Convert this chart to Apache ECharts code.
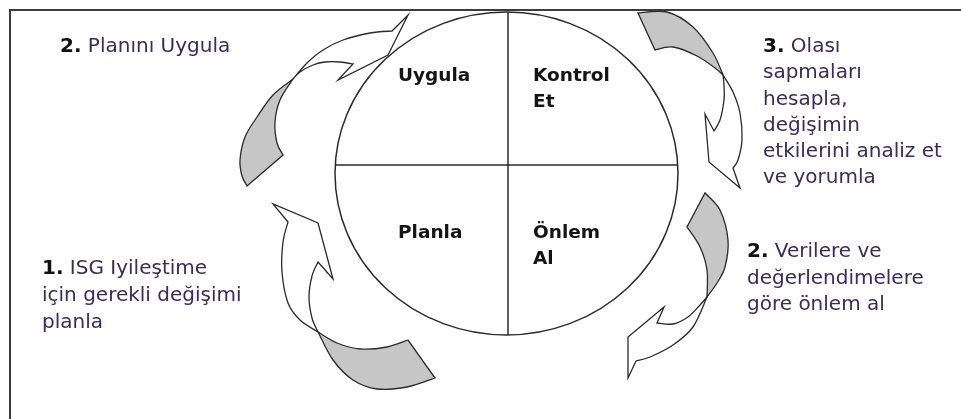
<!DOCTYPE html>
<html><head><meta charset="utf-8">
<script src="https://cdn.jsdelivr.net/npm/echarts@6/dist/echarts.min.js"></script>
<style>html,body{margin:0;padding:0;background:#fff}#c{width:961px;height:419px}</style>
</head><body><div id="c"></div>
<script>
// ---- content ----
const quadrantLabels = ['Uygula', 'Kontrol\nEt', 'Planla', 'Önlem\nAl'];
const stepNumbers = ['2.', '1.', '3.', '2.'];
const stepTexts = [
  ['Planını Uygula'],
  ['ISG Iyileştime', 'için gerekli değişimi', 'planla'],
  ['Olası', 'sapmaları', 'hesapla,', 'değişimin', 'etkilerini analiz et', 've yorumla'],
  ['Verilere ve', 'değerlendimelere', 'göre önlem al']
];

// ---- layout (diagram geometry, page units) ----
const W = 961, H = 419;
const quadrantPos = [[398, 76], [533, 76], [398, 233], [533, 233]];
const stepPos = [[60, 47, 27], [42, 269, 27], [763, 47, 26.2], [747, 252, 26.5]];
const circleGeom = { cx: 506.5, cy: 173.5, rx: 171.5, ry: 161.5, hy: 165, vx: 508 };
const frameGeom = { x: 10, y: 10 };
// arrow outlines: start point + runs of ['c', pts] (smooth) or ['l', pts] (straight)
const arrowTails = [
  { start: [247, 186], runs: [['l', [[283, 155]]], ['c', [[277, 143], [275, 122], [280, 100], [293, 79]]], ['c', [[273, 95], [257, 117], [245, 137], [240, 160], [242, 176], [247, 186]]]] },
  { start: [318, 332], runs: [['c', [[337, 343], [360, 349], [387, 347], [408, 340]]], ['l', [[435, 378]]], ['c', [[407, 387], [377, 389], [353, 380], [333, 360], [318, 332]]]] },
  { start: [638, 13], runs: [['c', [[667, 12], [693, 27], [713, 53], [723, 75]]], ['c', [[715, 68], [697, 56], [673, 47], [655, 50]]], ['l', [[638, 13]]]] },
  { start: [705, 193], runs: [['c', [[720, 210], [728, 240], [725, 267], [717, 283], [707, 297]]], ['c', [[707, 270], [700, 247], [687, 227]]], ['l', [[705, 193]]]] }
];
const arrowBodies = [
  { start: [293, 79], runs: [['c', [[307, 63], [323, 50], [343, 40], [370, 33], [392, 31]]], ['l', [[408, 15], [388, 55], [338, 80], [353, 64]]], ['c', [[340, 62], [325, 62], [313, 65], [300, 72], [293, 79]]]] },
  { start: [318, 332], runs: [['c', [[300, 320], [288, 303], [282, 272], [283, 242], [288, 222]]], ['l', [[273, 204], [318, 223], [333, 279], [318, 262]]], ['c', [[312, 276], [309, 297], [312, 318], [318, 332]]]] },
  { start: [723, 75], runs: [['c', [[733, 92], [740, 113], [742, 140], [738, 160], [733, 168]]], ['l', [[740, 188], [709, 162], [705, 114], [714, 131]]], ['c', [[720, 120], [724, 100], [724, 85], [723, 75]]]] },
  { start: [707, 297], runs: [['c', [[693, 327], [673, 345], [650, 357], [636, 361]]], ['l', [[628, 378], [628, 337], [664, 307], [657, 323]]], ['c', [[673, 324], [688, 317], [700, 305], [707, 297]]]] }
];

// ---- styles ----
const TEXT_COLOR = '#3b2a5c';
const NUM_COLOR = '#111';
const LINE_COLOR = '#2a2a2a';
const FONT = '"DejaVu Sans", sans-serif';

function f(n) { return Math.round(n * 100) / 100; }

function buildPath(shape, api) {
  const P = p => api.coord(p);
  let cur = P(shape.start);
  let d = 'M' + f(cur[0]) + ' ' + f(cur[1]);
  shape.runs.forEach(([kind, raw]) => {
    const pts = raw.map(P);
    if (kind === 'l') {
      pts.forEach(p => { d += ' L' + f(p[0]) + ' ' + f(p[1]); });
    } else {
      const all = [cur].concat(pts);
      for (let i = 0; i < all.length - 1; i++) {
        const p0 = all[Math.max(i - 1, 0)], p1 = all[i], p2 = all[i + 1], p3 = all[Math.min(i + 2, all.length - 1)];
        const c1 = [p1[0] + (p2[0] - p0[0]) / 6, p1[1] + (p2[1] - p0[1]) / 6];
        const c2 = [p2[0] - (p3[0] - p1[0]) / 6, p2[1] - (p3[1] - p1[1]) / 6];
        d += ' C' + f(c1[0]) + ' ' + f(c1[1]) + ' ' + f(c2[0]) + ' ' + f(c2[1]) + ' ' + f(p2[0]) + ' ' + f(p2[1]);
      }
    }
    cur = pts[pts.length - 1];
  });
  return d + ' Z';
}

const chart = echarts.init(document.getElementById('c'), null, { renderer: 'canvas' });

const option = {
  animation: false,
  backgroundColor: '#fff',
  grid: { left: 0, right: 0, top: 0, bottom: 0 },
  xAxis: { type: 'value', min: 0, max: W, show: false },
  yAxis: { type: 'value', min: 0, max: H, inverse: true, show: false },
  series: [
    {
      name: 'arrows', type: 'custom', clip: false, z: 1,
      data: arrowBodies.map((_, i) => [i, 0]),
      renderItem: (params, api) => {
        const i = params.dataIndex;
        return {
          type: 'group', children: [
            { type: 'path', shape: { pathData: buildPath(arrowBodies[i], api) }, style: { fill: '#fff', stroke: LINE_COLOR, lineWidth: 1.3 } },
            { type: 'path', shape: { pathData: buildPath(arrowTails[i], api) }, style: { fill: '#c6c6c6', stroke: LINE_COLOR, lineWidth: 1.3 } }
          ]
        };
      }
    },
    {
      name: 'frame', type: 'custom', clip: false, z: 2,
      data: [[0, 0]],
      renderItem: (params, api) => {
        const g = circleGeom;
        const L = api.coord([g.cx - g.rx, g.cy]), R = api.coord([g.cx + g.rx, g.cy]);
        const rx = (R[0] - L[0]) / 2;
        const ry = api.size([0, g.ry])[1];
        const ell = 'M' + L[0] + ' ' + L[1] + ' A' + rx + ' ' + ry + ' 0 1 0 ' + R[0] + ' ' + R[1] + ' A' + rx + ' ' + ry + ' 0 1 0 ' + L[0] + ' ' + L[1] + ' Z';
        // horizontal chord
        const dy = g.hy - g.cy;
        const hx = g.rx * Math.sqrt(1 - (dy * dy) / (g.ry * g.ry));
        const h1 = api.coord([g.cx - hx, g.hy]), h2 = api.coord([g.cx + hx, g.hy]);
        const dx = g.vx - g.cx;
        const vy = g.ry * Math.sqrt(1 - (dx * dx) / (g.rx * g.rx));
        const v1 = api.coord([g.vx, g.cy - vy]), v2 = api.coord([g.vx, g.cy + vy]);
        const f0 = api.coord([frameGeom.x, frameGeom.y]);
        const fR = api.coord([W, frameGeom.y]), fB = api.coord([frameGeom.x, H]);
        return {
          type: 'group', children: [
            { type: 'path', shape: { pathData: ell }, style: { fill: 'none', stroke: LINE_COLOR, lineWidth: 1.5 } },
            { type: 'line', shape: { x1: h1[0], y1: h1[1], x2: h2[0], y2: h2[1] }, style: { stroke: LINE_COLOR, lineWidth: 1.5 } },
            { type: 'line', shape: { x1: v1[0], y1: v1[1], x2: v2[0], y2: v2[1] }, style: { stroke: LINE_COLOR, lineWidth: 1.5 } },
            { type: 'polyline', shape: { points: [fB, f0, fR] }, style: { fill: 'none', stroke: '#3c3c3c', lineWidth: 2 } }
          ]
        };
      }
    },
    {
      name: 'quadrants', type: 'custom', clip: false, z: 3,
      data: quadrantLabels.map((_, i) => [i, 0]),
      renderItem: (params, api) => {
        const i = params.dataIndex;
        const p = api.coord([quadrantPos[i][0], quadrantPos[i][1] - 13]);
        return {
          type: 'text', x: p[0], y: p[1],
          style: { text: quadrantLabels[i], fill: '#141414', font: 'bold 18.5px ' + FONT, lineHeight: 26, align: 'left', verticalAlign: 'top' }
        };
      }
    },
    {
      name: 'steps', type: 'custom', clip: false, z: 3,
      data: stepTexts.map((_, i) => [i, 0]),
      renderItem: (params, api) => {
        const i = params.dataIndex;
        const [x, y, lh] = stepPos[i];
        const p = api.coord([x, y - lh / 2]);
        const lines = stepTexts[i].slice();
        lines[0] = '{n|' + stepNumbers[i] + '} ' + lines[0];
        return {
          type: 'text', x: p[0], y: p[1],
          style: {
            text: lines.join('\n'), fill: TEXT_COLOR, fontFamily: FONT, fontSize: 20, lineHeight: lh,
            align: 'left', verticalAlign: 'top',
            rich: { n: { fill: NUM_COLOR, fontWeight: 'bold', fontFamily: FONT, fontSize: 20, lineHeight: lh } }
          }
        };
      }
    }
  ]
};
chart.setOption(option);
</script>
</body></html>
